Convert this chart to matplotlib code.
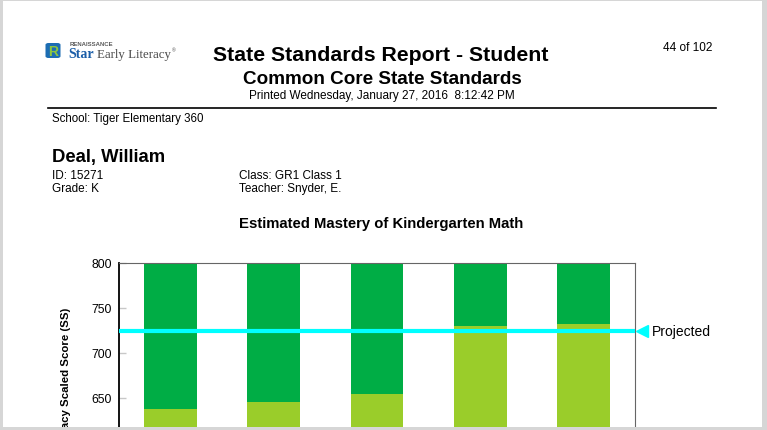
import matplotlib
matplotlib.use('Agg')
import matplotlib.pyplot as plt
from matplotlib.patches import Rectangle, FancyBboxPatch

plt.rcParams['font.family'] = ['Liberation Sans', 'DejaVu Sans']

# data
categories = ['1', '2', '3', '4', '5']
mastered = [637, 645, 654, 730, 732]   # light green part (bottom of each bar)
scale_top = [800, 800, 800, 800, 800]  # dark green goes up to the top of the scale
projected = 724
y_ticks = [650, 700, 750, 800]

W, H = 767, 431
fig = plt.figure(figsize=(W / 100, H / 100), dpi=100)
fig.patch.set_facecolor('white')


def px(x, y):
    return x / W, 1 - y / H


def txt(x, y, s, **kw):
    fig.text(*px(x, y), s, va='baseline', **kw)


# page border (drawn on top of everything)
gray = '#d6d6d6'
for (x0, y0, w, h) in [(0, 0, 3, H), (0, 0, W, 2), (762, 0, 5, H), (0, 428, W, 3)]:
    fig.add_artist(Rectangle(px(x0, y0 + h), w / W, h / H, transform=fig.transFigure,
                             facecolor=gray, edgecolor='none', zorder=10))

# logo
fig.add_artist(FancyBboxPatch(px(45.5, 59), 15 / W, 15 / H, boxstyle='round,pad=0,rounding_size=0.004',
                              transform=fig.transFigure, facecolor='#1c6db3', edgecolor='none'))
fig.text(*px(53, 51.5), 'R', ha='center', va='center', fontsize=10, fontweight='bold', color='#8cc63f')
txt(70, 46.5, 'RENAISSANCE', fontsize=4.3, fontweight='bold', color='#5a5a5a')
txt(68.5, 58, 'Star', fontsize=10, fontweight='bold', color='#1b5ea8', family='Liberation Serif')
txt(97, 58, 'Early Literacy', fontsize=9.3, color='#4a4a4a', family='Liberation Serif')
txt(172, 52, '®', fontsize=3.5, color='#4a4a4a')

# header
txt(381, 61, 'State Standards Report - Student', ha='center', fontsize=15.3, fontweight='bold')
txt(382, 84, 'Common Core State Standards', ha='center', fontsize=13.6, fontweight='bold')
txt(382, 99, 'Printed Wednesday, January 27, 2016  8:12:42 PM', ha='center', fontsize=8.5)
txt(712, 51, '44 of 102', ha='right', fontsize=8.5)
fig.add_artist(plt.Line2D([48 / W, 716 / W], [1 - 109 / H] * 2, color='black', lw=1.2,
                          transform=fig.transFigure))
txt(52, 122, 'School: Tiger Elementary 360', fontsize=8.3)

txt(52, 162, 'Deal, William', fontsize=13.3, fontweight='bold')
txt(52, 179, 'ID: 15271', fontsize=8.5)
txt(52, 192, 'Grade: K', fontsize=8.5)
txt(239, 179, 'Class: GR1 Class 1', fontsize=8.5)
txt(239, 192, 'Teacher: Snyder, E.', fontsize=8.5)

txt(381, 228, 'Estimated Mastery of Kindergarten Math', ha='center', fontsize=10.7, fontweight='bold')

# chart axes: 800 at y=263.5px, 45px per 50 points, extends below the visible page
ax_left, ax_right, ax_top = 119, 635, 263.5
ymin, ymax = 500, 800
ax_bottom = ax_top + (ymax - ymin) * 0.9
ax = fig.add_axes([ax_left / W, 1 - ax_bottom / H, (ax_right - ax_left) / W, (ax_bottom - ax_top) / H])

x = range(len(categories))
upper = [t - m for t, m in zip(scale_top, mastered)]
ax.bar(x, mastered, width=0.51, color='#9acd2a', edgecolor='none', zorder=2)
ax.bar(x, upper, bottom=mastered, width=0.51, color='#00ad45', edgecolor='none', zorder=2)
ax.axhline(projected, color='#00ffff', lw=3, zorder=3)
ax.plot([1 + 7 / (ax_right - ax_left)], [projected], marker='<', markersize=9, color='#00ffff',
        transform=ax.get_yaxis_transform(), clip_on=False, zorder=3)
ax.text(1 + 17 / (ax_right - ax_left), projected, 'Projected', transform=ax.get_yaxis_transform(),
        va='center', ha='left', fontsize=10)

ax.set_xlim(-0.5, len(categories) - 0.5)
ax.set_ylim(ymin, ymax)
ax.set_xticks([])
ax.set_yticks(y_ticks)
ax.tick_params(axis='y', direction='in', length=5, width=1, color='#c8c8c8', labelsize=8.8, pad=5)
ax.spines['left'].set_color('black')
ax.spines['left'].set_linewidth(1.3)
for s in ['top', 'right']:
    ax.spines[s].set_color('#666666')
    ax.spines[s].set_linewidth(0.8)

fig.text(*px(66, 308), 'Star Early Literacy Scaled Score (SS)', rotation=90, ha='center', va='top',
         fontsize=8.2, fontweight='bold')

fig.savefig('out.png', dpi=100)
